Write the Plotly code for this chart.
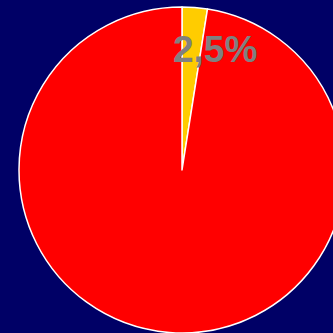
import plotly.graph_objects as go

# Share of each group (percent)
labels = ["Gruppe A", "Gruppe B"]
values = [2.5, 97.5]
colors = ["#FFCC00", "#FF0000"]

W, H = 346, 333

fig = go.Figure(
    go.Pie(
        labels=labels,
        values=values,
        sort=False,
        direction="clockwise",
        rotation=0,
        marker=dict(colors=colors, line=dict(color="white", width=1.5)),
        textinfo="none",
        hoverinfo="label+percent",
        showlegend=False,
        domain=dict(x=[19 / W, 345 / W], y=[0, 326 / H]),
    )
)

share = values[0] / sum(values) * 100
fig.add_annotation(
    x=215 / W,
    y=1 - 50 / H,
    xref="paper",
    yref="paper",
    xanchor="center",
    yanchor="middle",
    text=f"{share:.1f}%".replace(".", ","),
    showarrow=False,
    font=dict(family="Liberation Sans, Arial, sans-serif", size=37, color="#808080", weight="bold"),
)

fig.update_layout(
    width=W,
    height=H,
    margin=dict(l=0, r=0, t=0, b=0),
    paper_bgcolor="#000066",
    plot_bgcolor="#000066",
    separators=",.",
)

fig.write_html(
    "out.html",
    post_script="document.body.style.margin='0';document.body.style.overflow='hidden';"
    "document.documentElement.style.overflow='hidden';",
)
